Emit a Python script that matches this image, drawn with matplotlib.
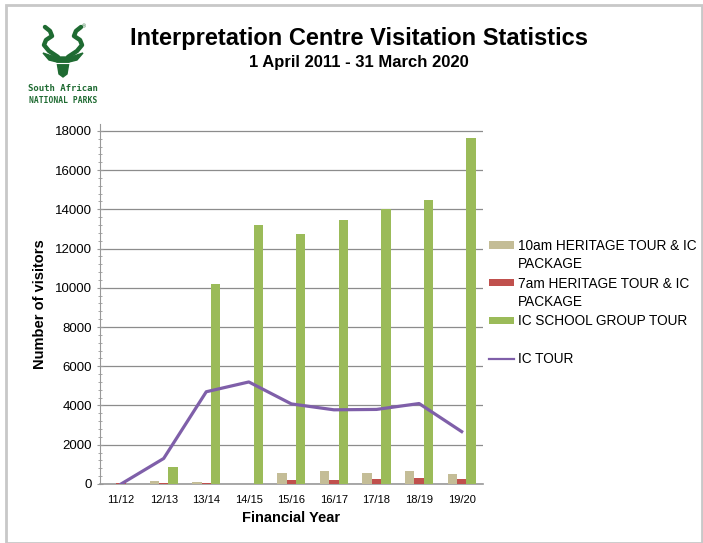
import numpy as np
import matplotlib.pyplot as plt
from matplotlib.patches import Rectangle

plt.rcParams['font.family'] = ['Liberation Sans', 'DejaVu Sans']

years = ['11/12', '12/13', '13/14', '14/15', '15/16', '16/17', '17/18', '18/19', '19/20']
heritage_10am = [20, 140, 100, 0, 545, 660, 580, 660, 510]
heritage_7am = [40, 50, 50, 0, 220, 220, 270, 320, 270]
school_group = [0, 880, 10200, 13200, 12750, 13450, 14000, 14450, 17650]
ic_tour = [0, 1300, 4700, 5200, 4080, 3780, 3800, 4100, 2670]

fig = plt.figure(figsize=(7.03, 5.43), dpi=100)

# screenshot frame
fig.patches.append(Rectangle((0.008, 0.0), 0.99, 0.99, transform=fig.transFigure,
                             fill=False, edgecolor='#c8c8c8', linewidth=2))

ax = fig.add_axes([0.142, 0.1087, 0.545, 0.663])
x = np.arange(len(years))
w = 0.22
ax.bar(x - w, heritage_10am, w, color='#C4BD97', label='10am HERITAGE TOUR & IC', zorder=3)
ax.bar(x, heritage_7am, w, color='#C0504D', label='7am HERITAGE TOUR & IC', zorder=3)
ax.bar(x + w, school_group, w, color='#9BBB59', label='IC SCHOOL GROUP TOUR', zorder=3)
ax.plot(x, ic_tour, color='#7F5FA9', linewidth=2.3, label='IC TOUR', zorder=4)

ax.set_xlim(-0.5, len(years) - 0.5)
ax.set_ylim(0, 18350)
ax.set_yticks(np.arange(0, 18001, 2000))
ax.set_yticks(np.arange(0, 18001, 400), minor=True)
ax.set_xticks(x)
ax.set_xticklabels(years, fontsize=8)
ax.tick_params(axis='y', labelsize=9.5, length=4, color='#999999', direction='inout')
ax.tick_params(axis='y', which='minor', length=3, color='#999999', direction='inout')
ax.tick_params(axis='x', length=0, pad=8)
ax.grid(axis='y', color='#8c8c8c', linewidth=0.9, zorder=0)
ax.set_axisbelow(True)
for s in ['top', 'right']:
    ax.spines[s].set_visible(False)
ax.spines['left'].set_color('#999999')
ax.spines['bottom'].set_color('#999999')
ax.spines['bottom'].set_linewidth(1.2)

ax.set_ylabel('Number of visitors', fontsize=10.5, fontweight='bold', labelpad=6)
ax.set_xlabel('Financial Year', fontsize=10.5, fontweight='bold', labelpad=4)

handles, labels = ax.get_legend_handles_labels()
leg = fig.legend(handles[1:] + handles[:1], labels[1:] + labels[:1],
                 loc='upper left', bbox_to_anchor=(489 / 703, 1 - 239 / 543), frameon=False,
                 fontsize=9.8, handlelength=1.8, handleheight=0.45, handletextpad=0.3,
                 labelspacing=1.74, borderpad=0, borderaxespad=0)
leg.legend_handles[3].set_linewidth(1.6)

fig.text(0.51, 0.93, 'Interpretation Centre Visitation Statistics', ha='center', va='center',
         fontsize=17, fontweight='bold')
fig.text(0.51, 0.885, '1 April 2011 - 31 March 2020', ha='center', va='center',
         fontsize=12, fontweight='bold')

# SANParks logo (simplified kudu head), drawn in pixel coordinates
green = '#1F6B32'
lax = fig.add_axes([36 / 703, 1 - 80 / 543, 54 / 703, 56 / 543])
lax.axis('off')
lax.set_xlim(36, 90)
lax.set_ylim(80, 24)
horn_x = np.array([58, 49, 44, 46, 52, 50, 45])
horn_y = np.array([57, 51, 45, 40, 36, 31, 27])
lax.plot(horn_x, horn_y, color=green, linewidth=3.2, solid_capstyle='round',
         solid_joinstyle='round')
lax.plot(126 - horn_x, horn_y, color=green, linewidth=3.2, solid_capstyle='round',
         solid_joinstyle='round')
head_x = [43, 55, 71, 83, 77, 69, 67, 63, 59, 57, 49]
head_y = [53, 57, 57, 53, 60, 62, 74, 77, 74, 62, 60]
lax.fill(head_x, head_y, color=green)
lax.plot([56, 70], [63, 63], color='white', linewidth=0.8)
lax.text(84, 27, '®', fontsize=4, color=green, ha='center', va='center')
fig.text(0.09, 0.837, 'South African', ha='center', va='center', fontsize=6.5,
         fontweight='bold', color=green, family='DejaVu Sans Mono')
fig.text(0.09, 0.814, 'NATIONAL PARKS', ha='center', va='center', fontsize=5.8,
         fontweight='bold', color=green, family='DejaVu Sans Mono')

# second line of the two-line legend labels, placed under the first line
fig.canvas.draw()
inv = fig.transFigure.inverted()
for t in leg.get_texts()[:2]:
    bb = t.get_window_extent()
    x0, y0 = inv.transform((bb.x0, bb.y0 - 4))
    fig.text(x0, y0, 'PACKAGE', fontsize=9.8, va='top', ha='left')

fig.savefig('out.png', dpi=100)
